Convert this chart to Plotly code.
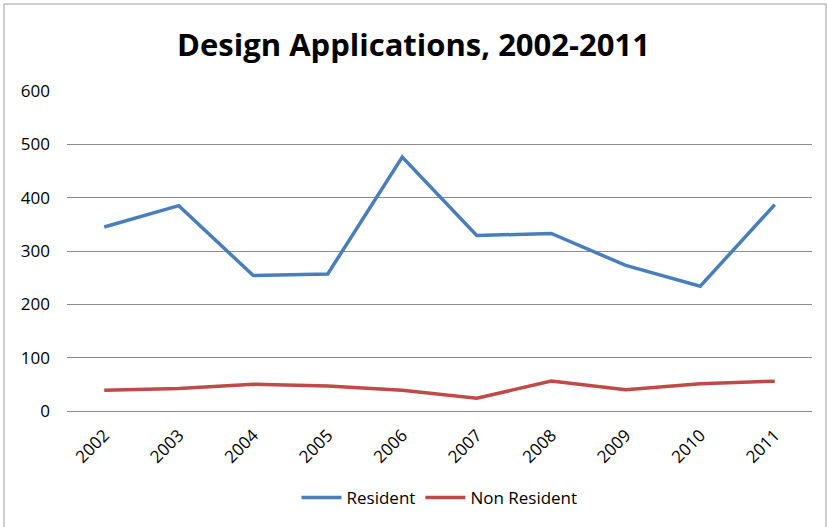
import plotly.graph_objects as go

years = ["2002", "2003", "2004", "2005", "2006", "2007", "2008", "2009", "2010", "2011"]
resident = [345, 385, 254, 257, 476, 329, 333, 273, 234, 387]
non_resident = [39, 42, 50, 47, 39, 24, 56, 40, 51, 56]

W, H = 827, 527
ml, mr, mt, mb = 67, 15, 91, 116
pw, ph = W - ml - mr, H - mt - mb

fig = go.Figure()
fig.add_trace(go.Scatter(x=years, y=resident, mode="lines", name="Resident",
                         line=dict(color="#4A7EBB", width=3.5)))
fig.add_trace(go.Scatter(x=years, y=non_resident, mode="lines", name="Non Resident",
                         line=dict(color="#BE4B48", width=3.5)))

def px_x(p):
    return (p - ml) / pw

def px_y(p):
    return (H - mb - p) / ph

fig.add_shape(type="rect", xref="paper", yref="paper",
              x0=px_x(4), x1=px_x(826), y0=px_y(530), y1=px_y(4),
              line=dict(color="#9A9A9A", width=1), fillcolor="rgba(0,0,0,0)", layer="below")

fig.update_layout(
    width=W, height=H,
    margin=dict(l=ml, r=mr, t=mt, b=mb, autoexpand=False),
    paper_bgcolor="white", plot_bgcolor="white",
    font=dict(family="Open Sans, Noto Sans, sans-serif", color="black", size=15),
    title=dict(text="<b>Design Applications, 2002-2011</b>", x=0.5, xanchor="center",
               y=1 - 45 / H, yanchor="middle",
               font=dict(size=31, family="Open Sans, sans-serif", color="black")),
    xaxis=dict(type="category", range=[-0.5, 9.5], tickangle=-45, showgrid=False,
               zeroline=False, automargin=False, ticklabelstandoff=10,
               showline=False, ticks="", tickfont=dict(size=17)),
    yaxis=dict(range=[0, 600], dtick=100, showgrid=True, gridcolor="#8C8C8C",
               gridwidth=1, zeroline=True, zerolinecolor="#8C8C8C", zerolinewidth=1,
               automargin=False, ticklabelstandoff=16,
               showline=False, ticks="", tickfont=dict(size=17)),
    legend=dict(orientation="h", x=0.5, xanchor="center", y=px_y(498), yanchor="middle",
                font=dict(size=17), itemwidth=40),
    showlegend=True,
)

fig.write_html("out.html", config={"displayModeBar": False},
               post_script="document.body.style.margin='0';")
